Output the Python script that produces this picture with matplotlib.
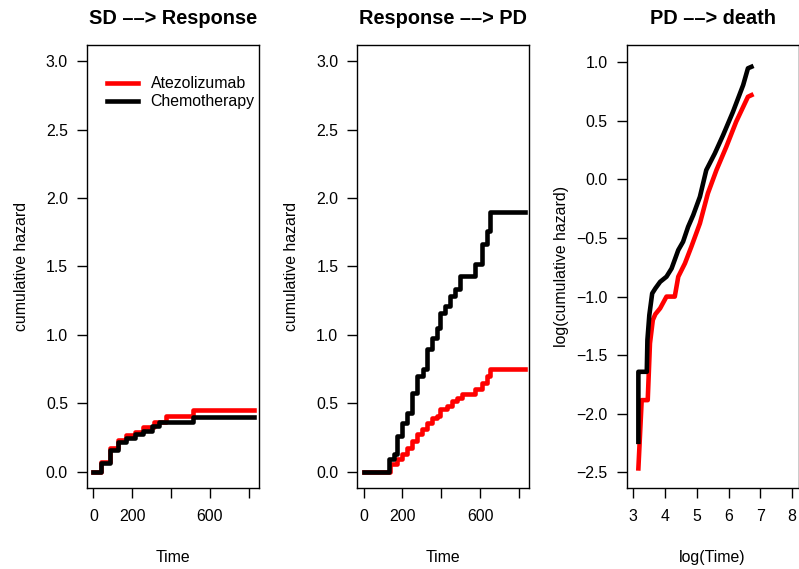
import numpy as np
import matplotlib
matplotlib.use('Agg')
import matplotlib.pyplot as plt

plt.rcParams['font.family'] = ['Liberation Sans', 'DejaVu Sans']

#SD --> Response, cumulative hazard step functions
t1_red = [0, 40, 83, 126, 169, 212, 255, 315, 375, 512, 829]
h1_red = [0, 0.073, 0.175, 0.231, 0.266, 0.293, 0.327, 0.361, 0.407, 0.448, 0.448]
t1_blk = [0, 40, 83, 126, 169, 212, 255, 300, 340, 512, 829]
h1_blk = [0, 0.063, 0.16, 0.215, 0.245, 0.275, 0.30, 0.33, 0.365, 0.40, 0.40]

#Response --> PD
t2_blk = [0, 128, 154, 171, 197, 222, 248, 274, 308, 325, 351, 377, 394,
          420, 445, 471, 497, 574, 608, 634, 651, 831]
h2_blk = [0, 0.09, 0.127, 0.26, 0.358, 0.43, 0.578, 0.70, 0.748, 0.895, 0.98,
          1.053, 1.163, 1.211, 1.285, 1.334, 1.431, 1.516, 1.663, 1.76, 1.895,
          1.895]
t2_red = [0, 137, 171, 197, 222, 248, 274, 300, 325, 351, 377, 394, 428, 454,
          480, 505, 574, 608, 634, 651, 831]
h2_red = [0, 0.053, 0.09, 0.127, 0.175, 0.224, 0.273, 0.31, 0.358, 0.395, 0.407,
          0.456, 0.48, 0.516, 0.541, 0.565, 0.602, 0.651, 0.70, 0.748, 0.748]

#PD --> death, log scale
lt3_blk = [3.166, 3.166, 3.24, 3.43, 3.45, 3.51, 3.60, 3.70, 3.85, 4.05, 4.21,
           4.42, 4.57, 4.73, 4.89, 5.10, 5.30, 5.57, 5.83, 6.14, 6.46, 6.61, 6.72]
lh3_blk = [-2.24, -1.642, -1.642, -1.642, -1.37, -1.158, -0.973, -0.93, -0.874,
           -0.83, -0.76, -0.603, -0.532, -0.404, -0.304, -0.148, 0.08, 0.223,
           0.379, 0.578, 0.806, 0.949, 0.962]
lt3_red = [3.166, 3.27, 3.27, 3.46, 3.53, 3.62, 3.70, 3.85, 4.05, 4.31, 4.42,
           4.63, 4.83, 5.10, 5.35, 5.62, 5.93, 6.24, 6.61, 6.72]
lh3_red = [-2.467, -1.884, -1.884, -1.884, -1.40, -1.2, -1.15, -1.10, -1.0,
           -1.0, -0.83, -0.716, -0.575, -0.375, -0.119, 0.08, 0.279, 0.493,
           0.706, 0.72]

lw = 3.3
fs = 11.4
fig = plt.figure(figsize=(7.99, 5.69), dpi=100)
lefts = [0.1089, 0.4472, 0.7844]
axes = [fig.add_axes([l, 0.1424, 0.2150, 0.7785]) for l in lefts]

ax1, ax2, ax3 = axes
ax1.step(t1_red, h1_red, where='post', color='red', lw=lw, label='Atezolizumab')
ax1.step(t1_blk, h1_blk, where='post', color='black', lw=lw, label='Chemotherapy')
ax2.step(t2_red, h2_red, where='post', color='red', lw=lw)
ax2.step(t2_blk, h2_blk, where='post', color='black', lw=lw)
ax3.plot(lt3_red, lh3_red, color='red', lw=lw)
ax3.plot(lt3_blk, lh3_blk, color='black', lw=lw)

titles = ['SD \u2013\u2013> Response', 'Response \u2013\u2013> PD', 'PD \u2013\u2013> death']
for ax, ttl in zip(axes, titles):
    ax.set_title(ttl, fontsize=14.4, fontweight='bold', pad=15)
    ax.tick_params(direction='out', length=7.2, width=1, labelsize=fs)
    ax.tick_params(axis='x', pad=8)
    ax.tick_params(axis='y', pad=6.5)
    for s in ax.spines.values():
        s.set_linewidth(1)

def fmt(vals):
    return [('%.1f' % v).replace('-', '\u2212') for v in vals]

for ax in (ax1, ax2):
    ax.set_xlim(-33, 853)
    ax.set_ylim(-0.12, 3.12)
    ax.set_xticks([0, 200, 400, 600, 800])
    ax.set_xticklabels(['0', '200', '', '600', ''])
    yt = np.arange(0, 3.01, 0.5)
    ax.set_yticks(yt)
    ax.set_yticklabels(fmt(yt))
    ax.set_xlabel('Time', fontsize=fs, labelpad=19)
    ax.set_ylabel('cumulative hazard', fontsize=fs, labelpad=12)

ax3.set_xlim(2.8, 8.2)
ax3.set_ylim(-2.634, 1.148)
ax3.set_xticks(range(3, 9))
yt3 = np.arange(-2.5, 1.01, 0.5)
ax3.set_yticks(yt3)
ax3.set_yticklabels(fmt(yt3))
ax3.set_xlabel('log(Time)', fontsize=fs, labelpad=19)
ax3.set_ylabel('log(cumulative hazard)', fontsize=fs, labelpad=5)

ax1.legend(loc='upper left', bbox_to_anchor=(0.114, 0.929), frameon=False,
           fontsize=fs, handlelength=2.0, handletextpad=0.78, labelspacing=0.17,
           borderpad=0, borderaxespad=0)

fig.savefig('out.png', dpi=100)
